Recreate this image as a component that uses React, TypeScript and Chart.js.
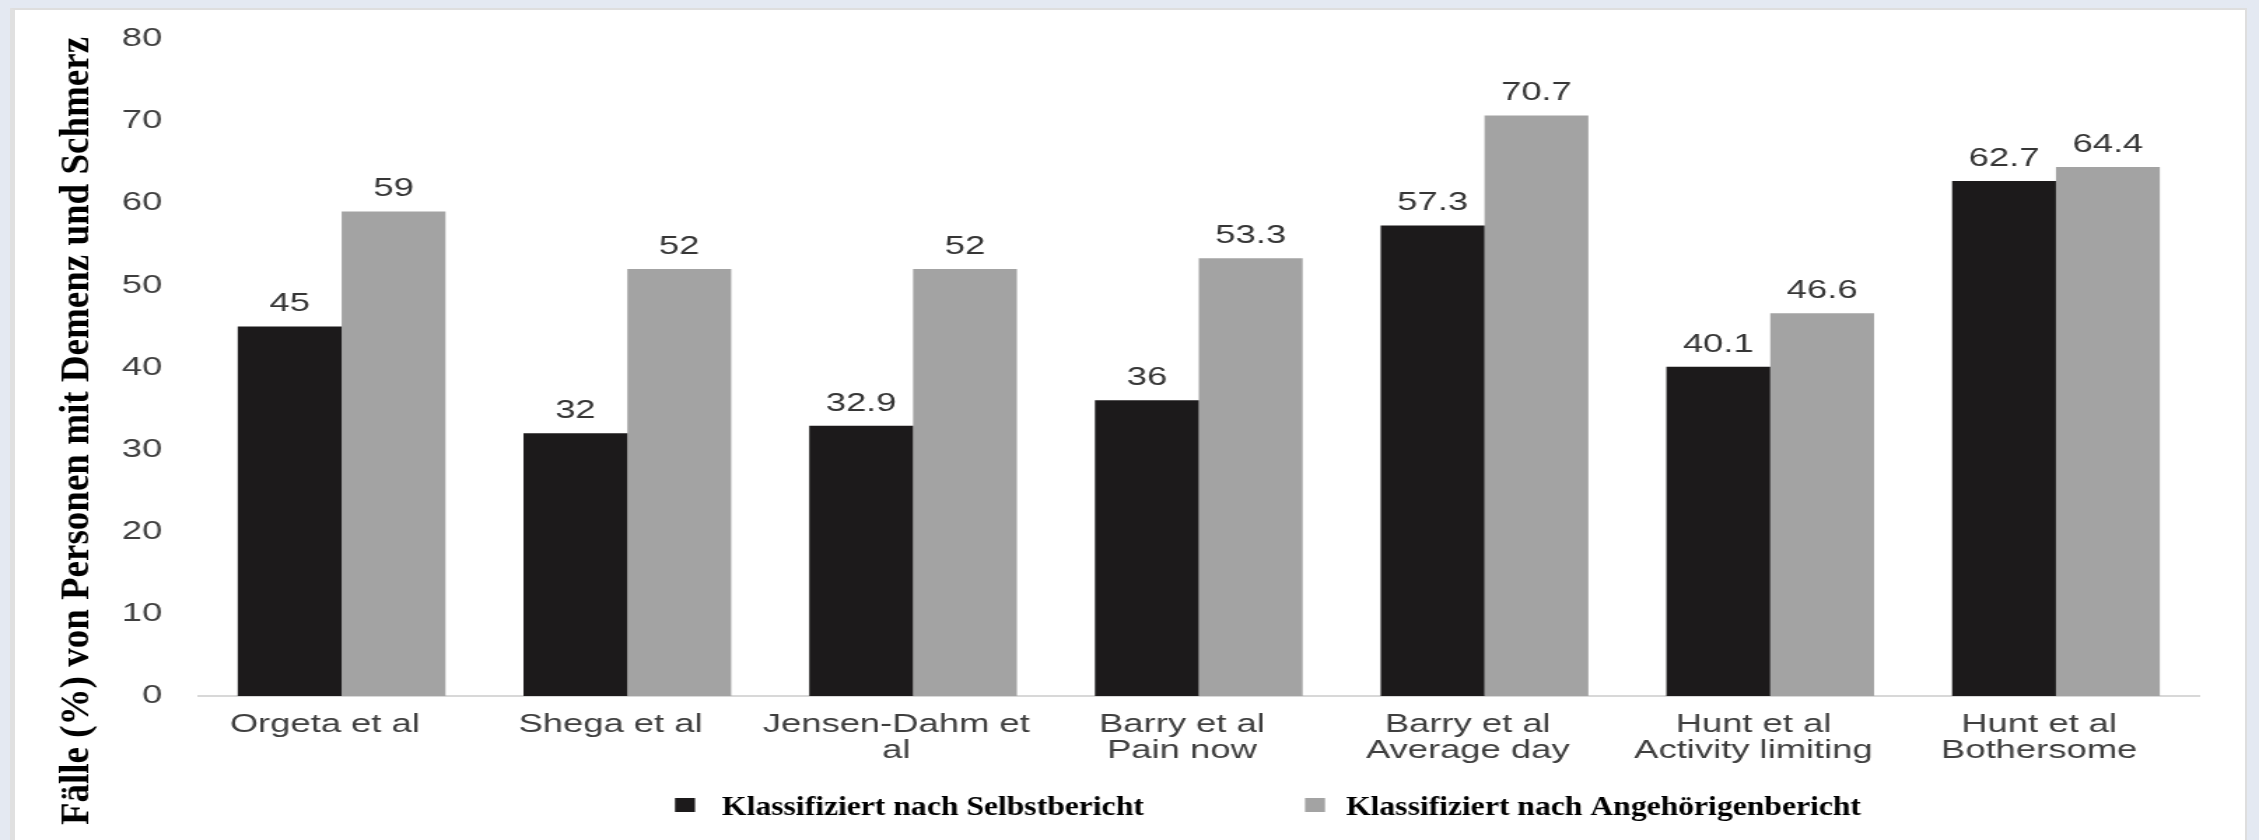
import React, { useEffect, useRef } from "react";
import { Chart, registerables } from "chart.js";

Chart.register(...registerables);

// ---- data ----
const categories: string[][] = [
  ["Orgeta et al"],
  ["Shega et al"],
  ["Jensen-Dahm et", "al"],
  ["Barry et al", "Pain now"],
  ["Barry et al", "Average day"],
  ["Hunt et al", "Activity limiting"],
  ["Hunt et al", "Bothersome"],
];
const selfReport = [45, 32, 32.9, 36, 57.3, 40.1, 62.7];
const proxyReport = [59, 52, 52, 53.3, 70.7, 46.6, 64.4];
const seriesNames = [
  "Klassifiziert nach Selbstbericht",
  "Klassifiziert nach Angehörigenbericht",
];
const seriesColors = ["#1c1a1b", "#a3a3a3"];
const yMin = 0;
const yMax = 80;
const yStep = 10;
const yAxisTitle = "Fälle (%) von Personen mit Demenz und Schmerz";

// ---- layout (page is 2259 x 840; the source chart is horizontally stretched) ----
const PAGE_W = 2259;
const PAGE_H = 840;
const CANVAS_W = 1614;
const SX = PAGE_W / CANVAS_W;

const valueLabelsPlugin = {
  id: "valueLabels",
  afterDatasetsDraw(chart: any) {
    const ctx = chart.ctx;
    ctx.save();
    ctx.font = '26px "Liberation Sans", Arial, sans-serif';
    ctx.fillStyle = "#363636";
    ctx.textAlign = "center";
    ctx.textBaseline = "alphabetic";
    chart.data.datasets.forEach((ds: any, i: number) => {
      const meta = chart.getDatasetMeta(i);
      meta.data.forEach((bar: any, j: number) => {
        ctx.fillText(String(ds.data[j]), bar.x, bar.y - 15);
      });
    });
    ctx.restore();
  },
};

const overlayPlugin = {
  id: "overlayTexts",
  afterDraw(chart: any) {
    const ctx = chart.ctx;
    // y-axis title (serif, bold, rotated)
    ctx.save();
    ctx.scale(1 / SX, 1);
    ctx.translate(88, 431);
    ctx.scale(1.15, 1);
    ctx.rotate(-Math.PI / 2);
    ctx.font = 'bold 37px "Liberation Serif", "Times New Roman", serif';
    ctx.fillStyle = "#000";
    ctx.textAlign = "center";
    ctx.textBaseline = "alphabetic";
    ctx.fillText(yAxisTitle, 0, 0);
    ctx.restore();

    // legend
    const boxX = [675, 1305];
    const textX = [722, 1346];
    chart.data.datasets.forEach((ds: any, i: number) => {
      ctx.save();
      ctx.scale(1 / SX, 1);
      ctx.fillStyle = ds.backgroundColor;
      ctx.fillRect(boxX[i], 798, 20, 14);
      ctx.translate(textX[i], 815);
      ctx.scale(1.13, 1);
      ctx.font = 'bold 28px "Liberation Serif", "Times New Roman", serif';
      ctx.fillStyle = "#000";
      ctx.textAlign = "left";
      ctx.textBaseline = "alphabetic";
      ctx.fillText(ds.label, 0, 0);
      ctx.restore();
    });
  },
};

export default function App() {
  const canvasRef = useRef<HTMLCanvasElement | null>(null);

  useEffect(() => {
    document.body.style.margin = "0";
    document.body.style.background = "#e4e9f2";
    const canvas = canvasRef.current;
    if (!canvas) return;
    const tickFont = { family: '"Liberation Sans", Arial, sans-serif', size: 26, lineHeight: 1.0 };
    const chart = new Chart(canvas, {
      type: "bar",
      data: {
        labels: categories,
        datasets: [
          { label: seriesNames[0], data: selfReport, backgroundColor: seriesColors[0], borderWidth: 0 },
          { label: seriesNames[1], data: proxyReport, backgroundColor: seriesColors[1], borderWidth: 0 },
        ],
      },
      options: {
        responsive: false,
        animation: false,
        devicePixelRatio: 1,
        layout: { padding: { top: 39, right: 43, left: 0, bottom: 0 } },
        datasets: { bar: { categoryPercentage: 0.727, barPercentage: 1.0 } },
        plugins: {
          legend: { display: false },
          tooltip: { enabled: false },
          title: { display: false },
        },
        scales: {
          x: {
            grid: { display: false, drawTicks: false },
            border: { display: true, color: "#d8d8d8", width: 2 },
            ticks: {
              color: "#3f3f3f",
              font: tickFont,
              padding: 16,
              labelOffset: -12,
              maxRotation: 0,
              minRotation: 0,
              autoSkip: false,
            },
            afterFit: (s: any) => {
              s.height = 144;
            },
          },
          y: {
            min: yMin,
            max: yMax,
            grid: { display: false, drawTicks: false },
            border: { display: false },
            ticks: { stepSize: yStep, color: "#3f3f3f", font: tickFont, padding: 26 },
            afterFit: (s: any) => {
              s.width = 142;
            },
          },
        },
      },
      plugins: [valueLabelsPlugin, overlayPlugin],
    } as any);
    return () => chart.destroy();
  }, []);

  return (
    <div style={{ position: "relative", width: PAGE_W, height: PAGE_H, overflow: "hidden", background: "#e4e9f2" }}>
      <div
        style={{
          position: "absolute",
          left: 10,
          top: 8,
          width: 2237,
          height: 840,
          background: "#ffffff",
          borderLeft: "5px solid #e0e0e0",
          borderTop: "2px solid #dedede",
          borderRight: "2px solid #dedede",
          boxSizing: "border-box",
        }}
      />
      <div style={{ position: "absolute", left: 0, top: 0, transform: `scaleX(${SX})`, transformOrigin: "0 0" }}>
        <canvas ref={canvasRef} width={CANVAS_W} height={PAGE_H} style={{ display: "block", width: CANVAS_W, height: PAGE_H }} />
      </div>
    </div>
  );
}
